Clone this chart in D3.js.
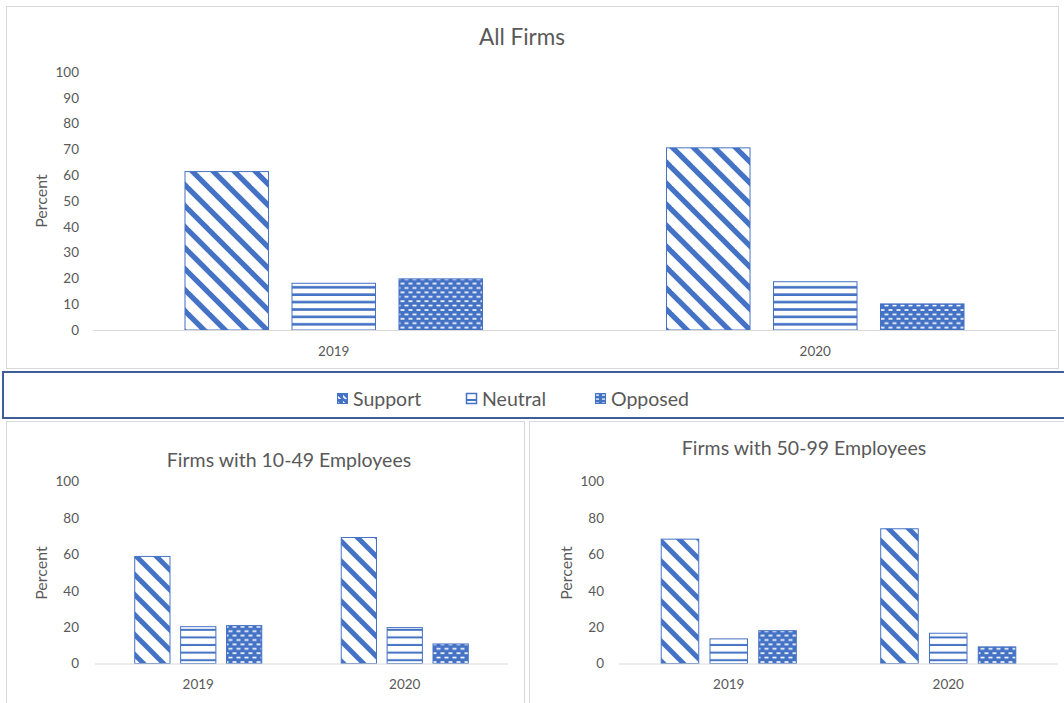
<!DOCTYPE html>
<html>
<head>
<meta charset="utf-8">
<script src="https://cdn.jsdelivr.net/npm/d3@7"></script>
<style>
  html, body { margin: 0; padding: 0; background: #fff; }
  svg { display: block; }
  text { font-family: Lato, "Open Sans", sans-serif; fill: #595959; }
</style>
</head>
<body>
<svg id="chart" width="1064" height="703"></svg>
<script>
// ---- data ----
const categories = ["2019", "2020"];
const seriesNames = ["Support", "Neutral", "Opposed"];

const allSupport = [61.6, 70.8];
const allNeutral = [18.3, 18.9];
const allOpposed = [20.0, 10.3];

const smallSupport = [59.1, 69.5];
const smallNeutral = [20.5, 20.0];
const smallOpposed = [21.1, 11.0];

const midSupport = [68.6, 74.3];
const midNeutral = [13.8, 16.9];
const midOpposed = [18.3, 9.4];

const topTicks = [0, 10, 20, 30, 40, 50, 60, 70, 80, 90, 100];
const bottomTicks = [0, 20, 40, 60, 80, 100];

const titles = ["All Firms", "Firms with 10-49 Employees", "Firms with 50-99 Employees"];
const yLabel = "Percent";

// ---- drawing ----
const svg = d3.select("#chart");
const BLUE = "#4472C4";
const defs = svg.append("defs");

function makePatterns(suffix, diag, hPeriod, hThick) {
  // Support: wide downward diagonal
  const p1 = defs.append("pattern").attr("id", "sup" + suffix)
    .attr("patternUnits", "userSpaceOnUse").attr("width", diag).attr("height", diag);
  p1.append("rect").attr("width", diag).attr("height", diag).attr("fill", "#fff");
  const sw = diag * 0.25;
  [-diag, 0, diag].forEach((dx) => {
    p1.append("line").attr("x1", dx - 2).attr("y1", -2).attr("x2", dx + diag + 2).attr("y2", diag + 2)
      .attr("stroke", BLUE).attr("stroke-width", sw);
  });
  // Neutral: horizontal lines
  const p2 = defs.append("pattern").attr("id", "neu" + suffix)
    .attr("patternUnits", "userSpaceOnUse").attr("width", 8).attr("height", hPeriod);
  p2.append("rect").attr("width", 8).attr("height", hPeriod).attr("fill", "#fff");
  p2.append("rect").attr("y", hPeriod - hThick).attr("width", 8).attr("height", hThick).attr("fill", BLUE);
  // Opposed: blue with staggered white dashes
  const p3 = defs.append("pattern").attr("id", "opp" + suffix)
    .attr("patternUnits", "userSpaceOnUse").attr("width", 8).attr("height", 8.8);
  p3.append("rect").attr("width", 8).attr("height", 8.8).attr("fill", BLUE);
  p3.append("rect").attr("x", 0.5).attr("y", 1.2).attr("width", 4).attr("height", 1.6).attr("fill", "#fff");
  p3.append("rect").attr("x", 4.5).attr("y", 5.6).attr("width", 4).attr("height", 1.6).attr("fill", "#fff");
  p3.append("rect").attr("x", -3.5).attr("y", 5.6).attr("width", 4).attr("height", 1.6).attr("fill", "#fff");
}
makePatterns("T", 21, 7.4, 2.6);
makePatterns("B", 20, 7.6, 2.0);

// legend swatch patterns (small)
(function () {
  const p = defs.append("pattern").attr("id", "supL").attr("patternUnits", "userSpaceOnUse")
    .attr("width", 6).attr("height", 6);
  p.append("rect").attr("width", 6).attr("height", 6).attr("fill", BLUE);
  p.append("line").attr("x1", -1).attr("y1", 2).attr("x2", 4).attr("y2", 7).attr("stroke", "#fff").attr("stroke-width", 1.6);
  const q = defs.append("pattern").attr("id", "oppL").attr("patternUnits", "userSpaceOnUse")
    .attr("width", 6).attr("height", 4);
  q.append("rect").attr("width", 6).attr("height", 4).attr("fill", BLUE);
  q.append("rect").attr("x", 1).attr("y", 1.5).attr("width", 3).attr("height", 1.2).attr("fill", "#fff");
})();

// panel borders
svg.append("rect").attr("x", 6.5).attr("y", 6.5).attr("width", 1052).attr("height", 362)
  .attr("fill", "#fff").attr("stroke", "#d9d9d9");
svg.append("rect").attr("x", 6.5).attr("y", 421.5).attr("width", 518).attr("height", 290)
  .attr("fill", "#fff").attr("stroke", "#d9d9d9");
svg.append("rect").attr("x", 529.5).attr("y", 421.5).attr("width", 540).attr("height", 290)
  .attr("fill", "#fff").attr("stroke", "#d9d9d9");

function drawChart(cfg) {
  const g = svg.append("g");
  const x0 = d3.scaleBand().domain(categories).range([cfg.x0, cfg.x1]).padding(0);
  const gw = x0.bandwidth() * 0.62;
  const x1 = d3.scaleBand().domain(seriesNames).range([0, gw]).paddingInner(0.21).paddingOuter(0);
  const y = d3.scaleLinear().domain([0, 100]).range([cfg.yb, cfg.yt]);

  // title
  g.append("text").attr("x", cfg.tx).attr("y", cfg.ty).attr("text-anchor", "middle")
    .attr("dominant-baseline", "central").style("font-size", cfg.tsize + "px").text(cfg.title);

  // y tick labels
  const yAxis = d3.axisLeft(y).tickValues(cfg.ticks).tickSize(0).tickPadding(0);
  const ya = g.append("g").attr("transform", `translate(${cfg.labX},0)`).call(yAxis);
  ya.select(".domain").remove();
  ya.selectAll("text").style("font-size", "13.5px").attr("fill", "#595959")
    .style("font-family", "Lato, 'Open Sans', sans-serif");

  // y label
  g.append("text").attr("transform", `translate(${cfg.pX},${cfg.pY}) rotate(-90)`)
    .attr("text-anchor", "middle").attr("dominant-baseline", "central")
    .style("font-size", "16px").text(yLabel);

  // bars
  const data = cfg.values;
  categories.forEach((c, ci) => {
    const gx = x0(c) + (x0.bandwidth() - gw) / 2;
    seriesNames.forEach((s, si) => {
      const v = data[si][ci];
      g.append("rect")
        .attr("x", gx + x1(s) + 0.5).attr("y", y(v) + 0.5)
        .attr("width", x1.bandwidth() - 1).attr("height", cfg.yb - y(v) - 0.5)
        .attr("fill", `url(#${["sup", "neu", "opp"][si]}${cfg.pat})`)
        .attr("stroke", BLUE).attr("stroke-width", 1);
    });
  });

  // x axis
  const xAxis = d3.axisBottom(x0).tickSize(0).tickPadding(cfg.catPad);
  const xa = g.append("g").attr("transform", `translate(0,${cfg.yb})`).call(xAxis);
  xa.select(".domain").attr("stroke", "#d9d9d9").attr("stroke-width", 1.2)
    .attr("d", `M${cfg.x0},0.5H${cfg.x1}`);
  xa.selectAll("text").style("font-size", "13.5px").attr("fill", "#595959")
    .style("font-family", "Lato, 'Open Sans', sans-serif");
}

drawChart({ title: titles[0], tx: 522, ty: 36, tsize: 22.5, x0: 93, x1: 1056, yt: 72, yb: 330,
  ticks: topTicks, labX: 79, pX: 40, pY: 201, catPad: 16, pat: "T",
  values: [allSupport, allNeutral, allOpposed] });
drawChart({ title: titles[1], tx: 289, ty: 459, tsize: 19.5, x0: 95, x1: 508, yt: 481.5, yb: 663.5,
  ticks: bottomTicks, labX: 79, pX: 40, pY: 573, catPad: 16, pat: "B",
  values: [smallSupport, smallNeutral, smallOpposed] });
drawChart({ title: titles[2], tx: 804, ty: 447, tsize: 19.5, x0: 619, x1: 1058, yt: 481.5, yb: 663.5,
  ticks: bottomTicks, labX: 604, pX: 565, pY: 573, catPad: 16, pat: "B",
  values: [midSupport, midNeutral, midOpposed] });

// legend box
svg.append("rect").attr("x", 3).attr("y", 372).attr("width", 1070).attr("height", 46)
  .attr("fill", "#fff").attr("stroke", "#3d5e99").attr("stroke-width", 2);

const legendX = [337, 466, 595];
const legendFill = ["url(#supL)", null, "url(#oppL)"];
seriesNames.forEach((s, i) => {
  const lg = svg.append("g").attr("transform", `translate(${legendX[i]},393)`);
  if (i === 1) {
    lg.append("rect").attr("x", 0.5).attr("y", 0.5).attr("width", 10).attr("height", 10)
      .attr("fill", "#fff").attr("stroke", BLUE).attr("stroke-width", 1.5);
    lg.append("rect").attr("x", 0.5).attr("y", 6).attr("width", 10).attr("height", 2).attr("fill", BLUE);
  } else {
    lg.append("rect").attr("x", 0.5).attr("y", 0.5).attr("width", 10).attr("height", 10)
      .attr("fill", legendFill[i]).attr("stroke", BLUE).attr("stroke-width", 1);
  }
  lg.append("text").attr("x", 16).attr("y", 5.5).attr("dominant-baseline", "central")
    .style("font-size", "19.5px").text(s);
});
</script>
</body>
</html>
